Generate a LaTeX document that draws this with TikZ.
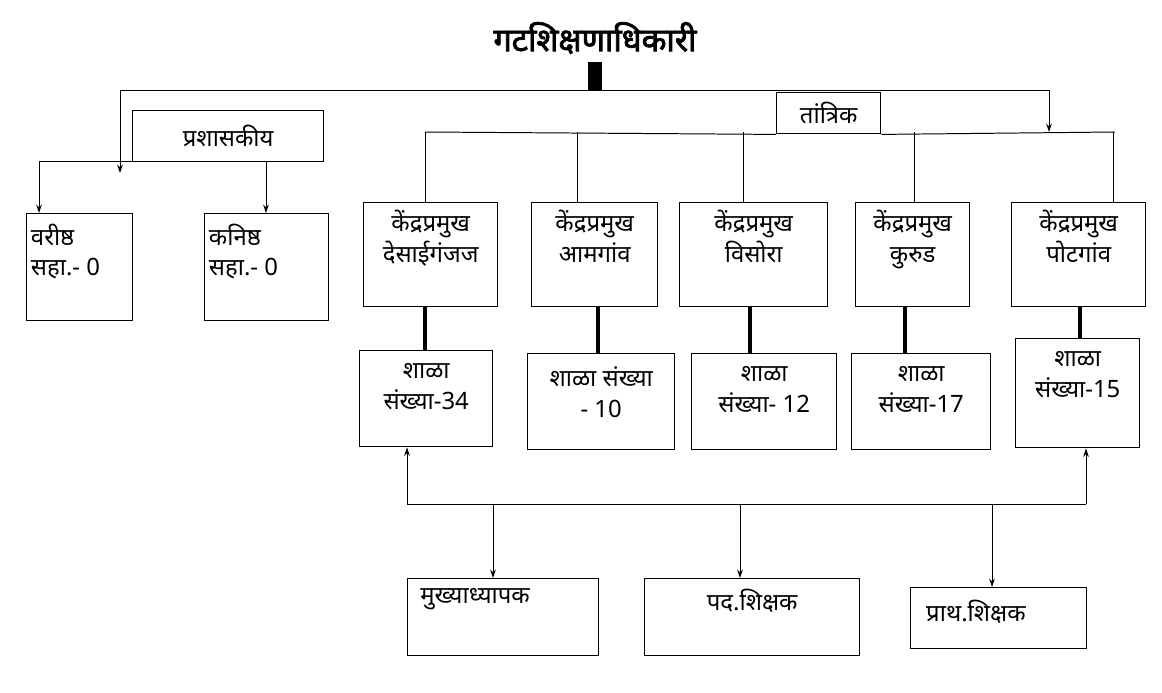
\documentclass[tikz,border=0pt]{standalone}
\usepackage{fontspec}
\setmainfont[Script=Devanagari, BoldFont={Noto Sans}, BoldFeatures={FakeBold=2.5}]{Noto Sans}
\usetikzlibrary{arrows.meta}

\tikzset{
  box/.style={draw, line width=1pt, anchor=north west, inner sep=0pt},
  link/.style={line width=0.7pt},
  bar/.style={line width=3pt},
  >={Stealth[length=6pt,width=4pt]}
}
% box: name, corner x, corner y, width, height, label options, text
\newcommand{\orgbox}[7]{%
  \node[box, minimum width=#4*0.025cm, minimum height=#5*0.025cm,
        label={[#6]#7}] (#1) at (#2,#3) {};}

\begin{document}
\begin{tikzpicture}[x=0.025cm, y=-0.025cm, font=\fontsize{17}{22}\selectfont]
  \useasboundingbox (0,0) rectangle (1162,692);

  % top
  \node[font=\fontsize{23}{26}\selectfont\bfseries] (gto) at (595,38) {गटशिक्षणाधिकारी};
  \coordinate (bartop) at (595,62);
  \coordinate (barbot) at (595,90);
  \draw[line width=10pt] (bartop) -- (barbot);
  \coordinate (hl) at (120,90);
  \coordinate (hr) at (1049,90);
  \draw[link] (hl) -- (hr);

  % administrative side
  \orgbox{prs}{132}{110}{191}{51}{anchor=center}{center:प्रशासकीय}
  \coordinate (al) at (120,173);
  \draw[link,->] (hl) -- (al);
  \orgbox{vr}{26}{213}{106}{107}{anchor=north west,align=left,yshift=-4pt}{north west:वरीष्ठ\\सहा.- 0}
  \orgbox{kn}{204}{213}{124}{107}{anchor=north west,align=left,yshift=-4pt}{north west:कनिष्ठ\\सहा.- 0}
  \coordinate (pl) at (39,161);
  \coordinate (pr) at (266,161);
  \draw[link] (pl) -- (pr);
  \draw[link,->] (pl) -- (pl |- vr.north);
  \draw[link,->] (pr) -- (pr |- kn.north);

  % technical side
  \orgbox{tan}{776}{92}{104}{41}{anchor=center}{center:तांत्रिक}
  \coordinate (tl) at (425,132);
  \coordinate (tr) at (1115,132);
  \draw[link] (tl) -- (tan.south west) (tan.south east) -- (tr);
  \draw[link,->] (hr) -- (hr |- tl);

  \orgbox{k1}{363}{202}{134}{104}{anchor=north,align=center,yshift=-2pt}{north:केंद्रप्रमुख\\देसाईगंजज}
  \orgbox{k2}{531}{202}{126}{104}{anchor=north,align=center,yshift=-2pt}{north:केंद्रप्रमुख\\आमगांव}
  \orgbox{k3}{679}{202}{148}{104}{anchor=north,align=center,yshift=-2pt}{north:केंद्रप्रमुख\\विसोरा}
  \orgbox{k4}{855}{202}{114}{104}{anchor=north,align=center,yshift=-2pt}{north:केंद्रप्रमुख\\कुरुड}
  \orgbox{k5}{1011}{202}{134}{104}{anchor=north,align=center,yshift=-2pt}{north:केंद्रप्रमुख\\पोटगांव}
  \foreach \x in {425,577,743,914,1113}
    \draw[link] (\x,132) -- (\x,202);

  \orgbox{s1}{359}{350}{133}{96}{anchor=north,align=center,yshift=-6pt}{north:शाळा\\संख्या-34}
  \orgbox{s2}{527}{353}{147}{96}{anchor=north,align=center,yshift=-6pt}{north:शाळा संख्या\\- 10}
  \orgbox{s3}{691}{353}{145}{96}{anchor=north,align=center,yshift=-6pt}{north:शाळा\\संख्या- 12}
  \orgbox{s4}{851}{353}{139}{96}{anchor=north,align=center,yshift=-6pt}{north:शाळा\\संख्या-17}
  \orgbox{s5}{1015}{338}{124}{109}{anchor=north,align=center,yshift=-6pt}{north:शाळा\\संख्या-15}
  \foreach \x/\y in {425/350,598/353,750/353,905/353,1080/338}
    \draw[bar] (\x,306) -- (\x,\y);

  % teachers
  \coordinate (bl) at (407,504);
  \coordinate (br) at (1086,504);
  \draw[link] (bl) -- (br);
  \draw[link,->] (bl) -- (bl |- s1.south);
  \draw[link,->] (br) -- (br |- s5.south);
  \orgbox{mu}{407}{578}{191}{77}{anchor=north west,align=left,xshift=6pt,yshift=-4pt}{north west:मुख्याध्यापक}
  \orgbox{pd}{644}{578}{215}{77}{anchor=north,align=center,yshift=-4pt}{north:पद.शिक्षक}
  \orgbox{pt}{910}{587}{176}{61}{anchor=north west,align=left,xshift=8pt,yshift=-6pt}{north west:प्राथ.शिक्षक}
  \draw[link,->] (493,504) -- (493,578);
  \draw[link,->] (740,504) -- (740,578);
  \draw[link,->] (992,504) -- (992,587);
\end{tikzpicture}
\end{document}
